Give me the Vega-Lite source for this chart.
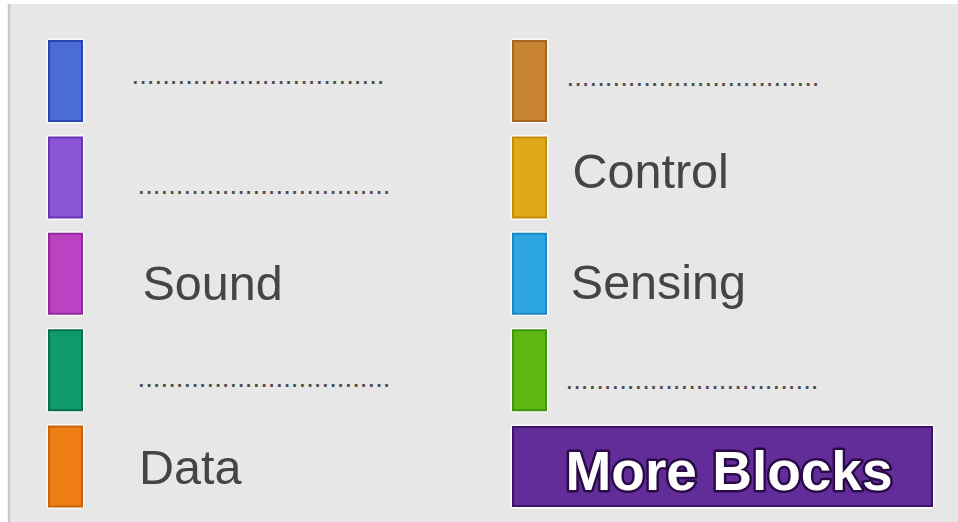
{
  "$schema": "https://vega.github.io/schema/vega-lite/v6.json",
  "width": 958,
  "height": 522,
  "autosize": {"type": "fit", "contains": "padding"},
  "padding": {"left": 9, "top": 4, "right": 0, "bottom": 0},
  "background": "#ffffff",
  "config": {"view": {"fill": "#e6e7e6", "stroke": "#c6c7c6", "strokeWidth": 2.5, "strokeDash": [0, 2416, 530]}},
  "data": {"values": [
    {"category": "Motion", "col": 0, "row": 1, "label": "................................."},
    {"category": "Looks", "col": 0, "row": 2, "label": "................................."},
    {"category": "Sound", "col": 0, "row": 3, "label": "Sound"},
    {"category": "Pen", "col": 0, "row": 4, "label": "................................."},
    {"category": "Data", "col": 0, "row": 5, "label": "Data"},
    {"category": "Events", "col": 1, "row": 1, "label": "................................."},
    {"category": "Control", "col": 1, "row": 2, "label": "Control"},
    {"category": "Sensing", "col": 1, "row": 3, "label": "Sensing"},
    {"category": "Operators", "col": 1, "row": 4, "label": "................................."},
    {"category": "More Blocks", "col": 1, "row": 5, "label": "More Blocks"}
  ]},
  "resolve": {"scale": {"x": "independent"}},
  "layer": [
    {
      "transform": [{"filter": "datum.category !== 'More Blocks'"}],
      "encoding": {
        "x": {"field": "col", "type": "quantitative", "scale": {"domain": [-0.12177, 1.92349], "nice": false, "zero": false}, "axis": null},
        "y": {"field": "row", "type": "quantitative", "scale": {"domain": [0.201, 5.5758], "nice": false, "zero": false, "reverse": true}, "axis": null}
      },
      "layer": [
        {"mark": {"type": "rect", "width": 38, "height": 85, "fill": "#ffffff", "opacity": 0.8, "cornerRadius": 3}},
        {
          "mark": {"type": "rect", "width": 33, "height": 80, "strokeWidth": 2},
          "encoding": {
            "fill": {"field": "category", "type": "nominal", "legend": null,
              "scale": {"domain": ["Motion", "Looks", "Sound", "Pen", "Data", "Events", "Control", "Sensing", "Operators"],
                        "range": ["#4a6cd4", "#8a55d7", "#bb42c3", "#0e9a6c", "#ee7d16", "#c88330", "#e1a91a", "#2ca5e2", "#5cb712"]}},
            "stroke": {"field": "category", "type": "nominal", "legend": null,
              "scale": {"domain": ["Motion", "Looks", "Sound", "Pen", "Data", "Events", "Control", "Sensing", "Operators"],
                        "range": ["#2a46b0", "#6634b3", "#922a9b", "#08704d", "#c8620c", "#a5661f", "#c28c0c", "#1a86c4", "#3f9410"]}}
          }
        },
        {"transform": [{"filter": "datum.category === 'Sound'"}],
         "mark": {"type": "text", "font": "Liberation Sans", "fontSize": 48.5, "align": "left", "baseline": "alphabetic", "dx": 77, "dy": 26, "fill": "#454545"},
         "encoding": {"text": {"field": "label"}}},
        {"transform": [{"filter": "datum.category === 'Data'"}],
         "mark": {"type": "text", "font": "Liberation Sans", "fontSize": 48.5, "align": "left", "baseline": "alphabetic", "dx": 73.5, "dy": 17.5, "fill": "#454545"},
         "encoding": {"text": {"field": "label"}}},
        {"transform": [{"filter": "datum.category === 'Control'"}],
         "mark": {"type": "text", "font": "Liberation Sans", "fontSize": 48.5, "align": "left", "baseline": "alphabetic", "dx": 43, "dy": 10.6, "fill": "#454545"},
         "encoding": {"text": {"field": "label"}}},
        {"transform": [{"filter": "datum.category === 'Sensing'"}],
         "mark": {"type": "text", "font": "Liberation Sans", "fontSize": 48.5, "align": "left", "baseline": "alphabetic", "dx": 41.3, "dy": 25.3, "fill": "#454545"},
         "encoding": {"text": {"field": "label"}}},
        {"transform": [{"filter": "datum.category === 'Motion'"}],
         "mark": {"type": "text", "font": "Liberation Sans", "fontSize": 27.6, "align": "left", "baseline": "alphabetic", "dx": 66, "dy": 2.5, "fill": "#4d4d4d"},
         "encoding": {"text": {"field": "label"}}},
        {"transform": [{"filter": "datum.category === 'Looks' || datum.category === 'Pen'"}],
         "mark": {"type": "text", "font": "Liberation Sans", "fontSize": 27.6, "align": "left", "baseline": "alphabetic", "dx": 72, "dy": 16.5, "fill": "#4d4d4d"},
         "encoding": {"text": {"field": "label"}}},
        {"transform": [{"filter": "datum.category === 'Events'"}],
         "mark": {"type": "text", "font": "Liberation Sans", "fontSize": 27.6, "align": "left", "baseline": "alphabetic", "dx": 37, "dy": 4.5, "fill": "#4d4d4d"},
         "encoding": {"text": {"field": "label"}}},
        {"transform": [{"filter": "datum.category === 'Operators'"}],
         "mark": {"type": "text", "font": "Liberation Sans", "fontSize": 27.6, "align": "left", "baseline": "alphabetic", "dx": 36, "dy": 19, "fill": "#4d4d4d"},
         "encoding": {"text": {"field": "label"}}}
      ]
    },
    {
      "transform": [{"filter": "datum.category === 'More Blocks'"}],
      "encoding": {
        "x": {"field": "col", "type": "quantitative", "scale": {"domain": [-0.53772, 1.50754], "nice": false, "zero": false}, "axis": null},
        "y": {"field": "row", "type": "quantitative", "scale": {"domain": [0.201, 5.5758], "nice": false, "zero": false, "reverse": true}, "axis": null}
      },
      "layer": [
        {"mark": {"type": "rect", "width": 424, "height": 84, "fill": "#ffffff", "opacity": 0.8, "cornerRadius": 3}},
        {"mark": {"type": "rect", "width": 419, "height": 79, "fill": "#632d99", "stroke": "#3a1466", "strokeWidth": 2}},
        {"mark": {"type": "text", "font": "Liberation Sans", "fontWeight": "bold", "fontSize": 55, "align": "center", "baseline": "alphabetic", "dx": 6.5, "dy": 23.5, "fill": "#2a0b48", "stroke": "#2a0b48", "strokeWidth": 5, "strokeJoin": "round"},
         "encoding": {"text": {"field": "label"}}},
        {"mark": {"type": "text", "font": "Liberation Sans", "fontWeight": "bold", "fontSize": 55, "align": "center", "baseline": "alphabetic", "dx": 6.5, "dy": 23.5, "fill": "#ffffff"},
         "encoding": {"text": {"field": "label"}}}
      ]
    }
  ]
}
